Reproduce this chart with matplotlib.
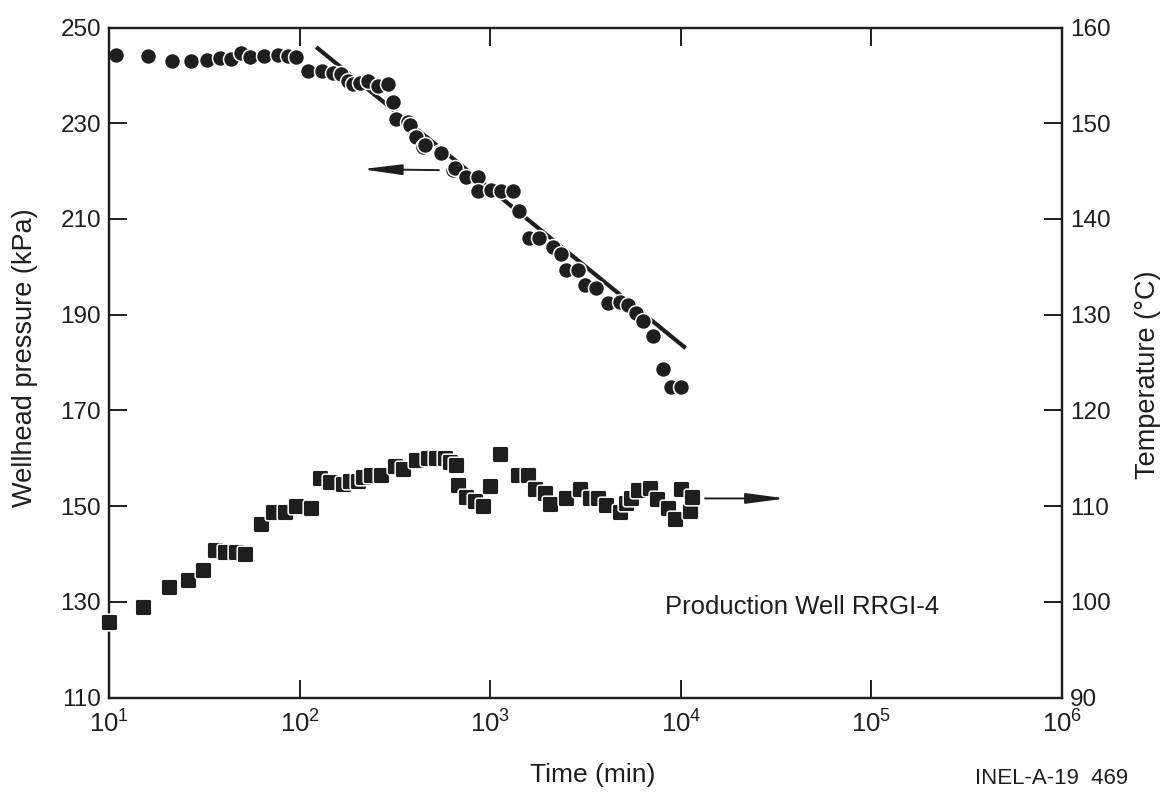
import numpy as np
import matplotlib
matplotlib.use("Agg")
import matplotlib.pyplot as plt
from matplotlib.path import Path
from matplotlib.ticker import NullLocator, LogFormatterSciNotation

# Wellhead pressure (circles), time in minutes and pressure in kPa
press_time = [10.8, 15.9, 21.3, 26.7, 32.7, 37.9, 43.7, 49.3, 54.5, 64.8, 76.7, 86.6,
              95.8, 110, 130, 149, 165, 179, 190, 206, 228, 257, 290, 308, 321, 370,
              377, 401, 408, 442, 453, 541, 554, 635, 650, 747, 860, 860, 1011, 1140,
              1312, 1422, 1604, 1811, 2128, 2355, 2500, 2877, 3120, 3595, 4140, 4765,
              5270, 5830, 6320, 7130, 8050, 8830, 9970]
press_kpa = [244.3, 244.1, 242.9, 242.9, 243.3, 243.6, 243.4, 244.6, 243.8, 244.0, 244.2,
             244.1, 243.9, 240.9, 240.9, 240.5, 240.2, 238.8, 238.1, 238.4, 238.8, 237.8,
             238.1, 234.4, 230.9, 230.2, 229.6, 227.1, 227.1, 225.0, 225.4, 224.0, 223.7,
             220.3, 220.6, 218.7, 218.7, 215.9, 216.1, 215.9, 215.8, 211.7, 206.1, 206.1,
             204.1, 202.7, 199.3, 199.3, 196.2, 195.5, 192.4, 192.7, 192.0, 190.4, 188.6,
             185.5, 178.6, 174.8, 174.8]

# Straight-line fit through the pressure decline
fit_time = [122, 10600]
fit_kpa = [245.9, 183.0]

# Temperature (squares), time in minutes and temperature in deg C
temp_time = [10, 15.1, 20.6, 25.9, 31, 35.8, 40.7, 46, 51.4, 62.7, 72.6, 84, 96, 114,
             127, 144, 169, 183, 202, 215, 237, 268, 315, 348, 409, 471, 521, 576, 612,
             663, 676, 747, 827, 915, 992, 1119, 1393, 1573, 1706, 1926, 2045, 2500,
             2939, 3315, 3674, 4064, 4776, 5176, 5502, 5960, 6870, 7450, 8580, 9300,
             10070, 11140, 11370]
temp_c = [97.9, 99.5, 101.5, 102.3, 103.3, 105.4, 105.2, 105.2, 105.0, 108.1, 109.4,
          109.4, 110.0, 109.8, 112.9, 112.5, 112.3, 112.6, 112.6, 113.0, 113.2, 113.2,
          114.2, 113.9, 114.8, 115.0, 115.0, 115.0, 114.6, 114.3, 112.2, 111.0, 110.5,
          110.0, 112.1, 115.4, 113.2, 113.2, 111.8, 111.4, 110.2, 110.8, 111.8, 110.8,
          110.8, 110.1, 109.4, 110.3, 110.8, 111.7, 111.9, 110.7, 109.8, 108.6, 111.8,
          109.5, 110.9]

press_ticks = [110, 130, 150, 170, 190, 210, 230, 250]
temp_ticks = [90, 100, 110, 120, 130, 140, 150, 160]
time_ticks = [1e1, 1e2, 1e3, 1e4, 1e5, 1e6]

INK = "#1e1e1e"

plt.rcParams["font.family"] = ["Liberation Sans", "DejaVu Sans"]
plt.rcParams["mathtext.default"] = "regular"


def rounded_square(r=0.28, n=8):
    """Square marker with rounded corners."""
    pts = []
    centers = [(1 - r, 1 - r), (-1 + r, 1 - r), (-1 + r, -1 + r), (1 - r, -1 + r)]
    for k, (cx, cy) in enumerate(centers):
        ang = np.linspace(k * np.pi / 2, (k + 1) * np.pi / 2, n)
        pts.extend(zip(cx + r * np.cos(ang), cy + r * np.sin(ang)))
    pts.append(pts[0])
    return Path(pts, closed=True)


fig = plt.figure(figsize=(11.71, 7.93), dpi=100)
ax = fig.add_axes([0.0933, 0.1204, 0.8136, 0.8449])
ax.set_xscale("log")
ax.set_xlim(10, 1e6)
ax.set_ylim(110, 250)
ax.set_xticks(time_ticks)
ax.xaxis.set_major_formatter(LogFormatterSciNotation())
ax.xaxis.set_minor_locator(NullLocator())
ax.set_yticks(press_ticks)

ax2 = ax.twinx()
ax2.set_ylim(90, 160)
ax2.set_yticks(temp_ticks)

for a in (ax, ax2):
    for s in a.spines.values():
        s.set_linewidth(1.6)
        s.set_color(INK)

ax.tick_params(axis="x", which="major", direction="in", length=13, width=1.4,
               top=True, bottom=True, labelsize=18.5, pad=9, colors=INK)
ax.tick_params(axis="y", direction="in", length=13, width=1.4, labelsize=17.5,
               pad=6, colors=INK, right=False)
ax2.tick_params(axis="y", direction="in", length=13, width=1.4, labelsize=17.5,
                pad=6, colors=INK)

# pressure: fit line under the circles
ax.plot(fit_time, fit_kpa, color=INK, lw=3.0, solid_capstyle="butt", zorder=2)
ax.plot(press_time, press_kpa, linestyle="none", marker="o", markersize=11.5,
        markerfacecolor=INK, markeredgecolor="white", markeredgewidth=1.1, zorder=3,
        clip_on=False)

# temperature squares
ax2.plot(temp_time, temp_c, linestyle="none", marker=rounded_square(),
         markersize=12, markerfacecolor=INK, markeredgecolor="white",
         markeredgewidth=1.1, zorder=3, clip_on=False)

arrow_style = dict(arrowstyle="-|>,head_length=2.4,head_width=0.32",
                   mutation_scale=10, lw=1.4, color=INK, shrinkA=0, shrinkB=0)
ax.annotate("", xy=(212, 220.4), xytext=(537, 220.2), arrowprops=arrow_style)
ax2.annotate("", xy=(35500, 110.8), xytext=(13390, 110.8), arrowprops=arrow_style)

ax.text(0.583, 0.135, "Production Well RRGI-4", transform=ax.transAxes,
        fontsize=18.5, color=INK, ha="left", va="center")

fig.text(25 / 1171, 1 - 358 / 793, "Wellhead pressure (kPa)", rotation=90,
         fontsize=19.5, color=INK, ha="center", va="center")
fig.text(1148 / 1171, 1 - 375 / 793, "Temperature (\u00b0C)", rotation=90,
         fontsize=19.5, color=INK, ha="center", va="center")
fig.text(593 / 1171, 1 - 775 / 793, "Time (min)", fontsize=19, color=INK,
         ha="center", va="center")
fig.text(1052 / 1171, 1 - 778 / 793, "INEL-A-19  469", fontsize=16, color=INK,
         ha="center", va="center")

fig.savefig("out.png", dpi=100, facecolor="white")
